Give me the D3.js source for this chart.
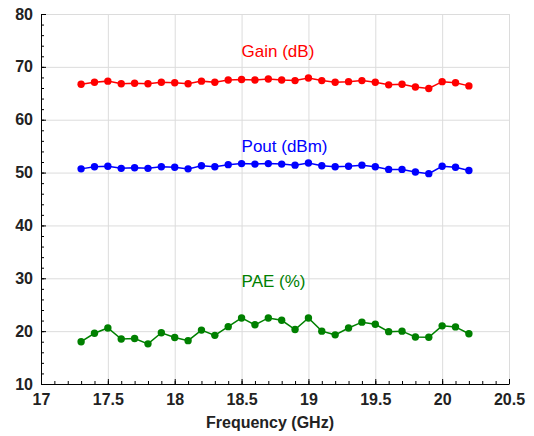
<!DOCTYPE html>
<html>
<head>
<meta charset="utf-8">
<script src="https://cdn.jsdelivr.net/npm/d3@7"></script>
<style>
  body { margin: 0; background: #fff; }
  svg { display: block; font-family: "Liberation Sans", Arial, sans-serif; }
  .grid line { stroke: #dcdcdc; stroke-width: 1; }
  .grid .domain { display: none; }
  .axis text { font-size: 16px; font-weight: bold; fill: #222; }
  .axis line, .axis path { stroke: #000; }
</style>
</head>
<body>
<div id="chart"></div>
<script>
// frequency points (GHz)
var freq = [17.3, 17.4, 17.5, 17.6, 17.7, 17.8, 17.9, 18.0, 18.1, 18.2,
            18.3, 18.4, 18.5, 18.6, 18.7, 18.8, 18.9, 19.0, 19.1, 19.2,
            19.3, 19.4, 19.5, 19.6, 19.7, 19.8, 19.9, 20.0, 20.1, 20.2];

var gain = [66.7, 67.1, 67.3, 66.8, 66.9, 66.8, 67.1, 67.0, 66.8, 67.3,
            67.1, 67.5, 67.6, 67.5, 67.7, 67.5, 67.4, 67.9, 67.4, 67.1,
            67.2, 67.4, 67.1, 66.6, 66.7, 66.2, 65.9, 67.2, 67.0, 66.4];

var pout = [50.7, 51.1, 51.2, 50.8, 50.9, 50.8, 51.1, 51.0, 50.7, 51.3,
            51.1, 51.5, 51.7, 51.6, 51.7, 51.6, 51.4, 51.8, 51.3, 51.1,
            51.2, 51.4, 51.1, 50.6, 50.6, 50.1, 49.8, 51.2, 51.0, 50.4];

var pae = [18.0, 19.6, 20.6, 18.5, 18.6, 17.6, 19.7, 18.8, 18.2, 20.2,
           19.2, 20.85, 22.5, 21.2, 22.5, 22.05, 20.3, 22.5, 20.0, 19.3,
           20.6, 21.7, 21.3, 19.9, 20.0, 18.9, 18.85, 21.0, 20.8, 19.5];

var xTicks = [17, 17.5, 18, 18.5, 19, 19.5, 20, 20.5];
var yTicks = [10, 20, 30, 40, 50, 60, 70, 80];

var series = [
  {name: "Gain (dB)", values: gain, color: "#ff0000", label: [18.5, 71.9]},
  {name: "Pout (dBm)", values: pout, color: "#0000ff", label: [18.5, 53.8]},
  {name: "PAE (%)", values: pae, color: "#008000", label: [18.5, 28.4]}
];

var svg = d3.select("#chart").append("svg")
    .attr("width", 534)
    .attr("height", 436),
    margin = {top: 14, right: 25, bottom: 52, left: 41},
    width = 534 - margin.left - margin.right,
    height = 436 - margin.top - margin.bottom,
    g = svg.append("g").attr("transform", "translate(" + margin.left + "," + margin.top + ")");

var x = d3.scaleLinear().domain([17, 20.5]).range([0, width]),
    y = d3.scaleLinear().domain([10, 80]).range([height, 0]);

// grid
g.append("g")
    .attr("class", "grid")
    .call(d3.axisBottom(x).tickValues(xTicks).tickSize(height).tickFormat(""));
g.append("g")
    .attr("class", "grid")
    .call(d3.axisLeft(y).tickValues(yTicks).tickSize(-width).tickFormat(""));

// minor ticks
g.append("g")
    .attr("class", "axis")
    .attr("transform", "translate(0," + height + ")")
    .call(d3.axisBottom(x).tickValues(d3.range(17, 20.51, 0.1)).tickSize(-3).tickFormat(""))
    .select(".domain").remove();
g.append("g")
    .attr("class", "axis")
    .call(d3.axisLeft(y).tickValues(d3.range(10, 80.1, 2)).tickSize(-3).tickFormat(""))
    .select(".domain").remove();

// main axes
g.append("g")
    .attr("class", "axis")
    .attr("transform", "translate(0," + height + ")")
    .call(d3.axisBottom(x).tickValues(xTicks).tickSizeInner(-5).tickSizeOuter(0).tickPadding(10)
        .tickFormat(function(d) { return d; }));
g.append("g")
    .attr("class", "axis")
    .call(d3.axisLeft(y).tickValues(yTicks).tickSizeInner(-5).tickSizeOuter(0).tickPadding(8));

g.append("text")
    .attr("x", 229)
    .attr("y", height + 44)
    .attr("text-anchor", "middle")
    .style("font-size", "16px")
    .style("font-weight", "bold")
    .attr("fill", "#222")
    .text("Frequency (GHz)");

var line = d3.line()
    .x(function(d, i) { return x(freq[i]); })
    .y(function(d) { return y(d); });

var s = g.selectAll(".series")
    .data(series)
    .enter().append("g")
    .attr("class", "series");

s.append("path")
    .attr("d", function(d) { return line(d.values); })
    .attr("fill", "none")
    .attr("stroke", function(d) { return d.color; })
    .attr("stroke-width", 1.5);

s.selectAll("circle")
    .data(function(d) { return d.values.map(function(v, i) { return {f: freq[i], v: v, c: d.color}; }); })
    .enter().append("circle")
    .attr("cx", function(d) { return x(d.f); })
    .attr("cy", function(d) { return y(d.v); })
    .attr("r", 3.7)
    .attr("fill", function(d) { return d.c; });

s.append("text")
    .attr("x", function(d) { return x(d.label[0]); })
    .attr("y", function(d) { return y(d.label[1]); })
    .style("font-size", "17px")
    .attr("fill", function(d) { return d.color; })
    .text(function(d) { return d.name; });
</script>
</body>
</html>
